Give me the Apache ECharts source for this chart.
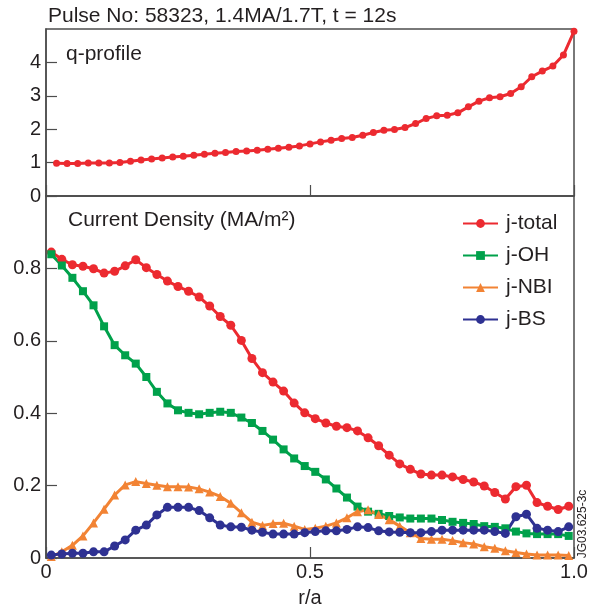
<!DOCTYPE html>
<html>
<head>
<meta charset="utf-8">
<script src="https://cdn.jsdelivr.net/npm/echarts@6/dist/echarts.min.js"></script>
<style>
  html, body { margin: 0; padding: 0; background: #fff; }
  #chart { width: 597px; height: 613px; }
</style>
</head>
<body>
<div id="chart"></div>
<script>
// r/a positions of the q-profile points
var rQ = [0.02, 0.04, 0.06, 0.08, 0.10, 0.12, 0.14, 0.16, 0.18, 0.20,
          0.22, 0.24, 0.26, 0.28, 0.30, 0.32, 0.34, 0.36, 0.38, 0.40,
          0.42, 0.44, 0.46, 0.48, 0.50, 0.52, 0.54, 0.56, 0.58, 0.60,
          0.62, 0.64, 0.66, 0.68, 0.70, 0.72, 0.74, 0.76, 0.78, 0.80,
          0.82, 0.84, 0.86, 0.88, 0.90, 0.92, 0.94, 0.96, 0.98, 1.00];
var qProfile = [0.98, 0.97, 0.97, 0.99, 0.99, 0.99, 1.00, 1.04, 1.08, 1.11,
                1.14, 1.17, 1.19, 1.22, 1.25, 1.28, 1.30, 1.33, 1.35, 1.37,
                1.40, 1.43, 1.46, 1.50, 1.56, 1.62, 1.67, 1.72, 1.75, 1.82,
                1.90, 1.97, 1.99, 2.05, 2.17, 2.32, 2.40, 2.42, 2.49, 2.67,
                2.84, 2.94, 2.97, 3.07, 3.27, 3.57, 3.74, 3.89, 4.22, 4.93];

// r/a positions of the current density points
var rJ = [0.01, 0.03, 0.05, 0.07, 0.09, 0.11, 0.13, 0.15, 0.17, 0.19,
          0.21, 0.23, 0.25, 0.27, 0.29, 0.31, 0.33, 0.35, 0.37, 0.39,
          0.41, 0.43, 0.45, 0.47, 0.49, 0.51, 0.53, 0.55, 0.57, 0.59,
          0.61, 0.63, 0.65, 0.67, 0.69, 0.71, 0.73, 0.75, 0.77, 0.79,
          0.81, 0.83, 0.85, 0.87, 0.89, 0.91, 0.93, 0.95, 0.97, 0.99];
var jTotal = [0.845, 0.825, 0.810, 0.806, 0.799, 0.787, 0.792, 0.807, 0.824, 0.802,
              0.783, 0.765, 0.750, 0.737, 0.721, 0.696, 0.667, 0.643, 0.601, 0.551,
              0.512, 0.486, 0.461, 0.428, 0.401, 0.385, 0.373, 0.364, 0.360, 0.351,
              0.332, 0.310, 0.284, 0.260, 0.245, 0.232, 0.229, 0.229, 0.224, 0.217,
              0.210, 0.199, 0.181, 0.163, 0.197, 0.201, 0.153, 0.143, 0.134, 0.143];
var jOH = [0.839, 0.808, 0.774, 0.737, 0.698, 0.640, 0.588, 0.560, 0.537, 0.500,
           0.459, 0.427, 0.408, 0.401, 0.397, 0.401, 0.404, 0.401, 0.388, 0.373,
           0.351, 0.327, 0.300, 0.275, 0.254, 0.238, 0.217, 0.192, 0.167, 0.142,
           0.128, 0.122, 0.116, 0.112, 0.109, 0.109, 0.109, 0.105, 0.100, 0.097,
           0.094, 0.088, 0.086, 0.082, 0.073, 0.068, 0.066, 0.066, 0.066, 0.061];
var jNBI = [0.004, 0.017, 0.035, 0.061, 0.097, 0.135, 0.174, 0.202, 0.211, 0.206,
            0.201, 0.197, 0.197, 0.196, 0.191, 0.182, 0.170, 0.151, 0.125, 0.099,
            0.090, 0.095, 0.096, 0.088, 0.079, 0.082, 0.088, 0.097, 0.111, 0.128,
            0.133, 0.120, 0.106, 0.088, 0.070, 0.054, 0.052, 0.052, 0.048, 0.042,
            0.039, 0.031, 0.027, 0.020, 0.015, 0.011, 0.008, 0.008, 0.008, 0.007];
var jBS = [0.008, 0.011, 0.013, 0.013, 0.017, 0.017, 0.033, 0.050, 0.077, 0.091,
           0.119, 0.140, 0.140, 0.140, 0.131, 0.111, 0.091, 0.086, 0.085, 0.077,
           0.071, 0.066, 0.066, 0.066, 0.070, 0.073, 0.075, 0.075, 0.079, 0.086,
           0.084, 0.075, 0.072, 0.071, 0.070, 0.070, 0.073, 0.077, 0.077, 0.077,
           0.077, 0.077, 0.073, 0.068, 0.114, 0.121, 0.082, 0.077, 0.073, 0.086];

var seriesNames = ['j-total', 'j-OH', 'j-NBI', 'j-BS'];

var FONT = "'Liberation Sans', Arial, Helvetica, sans-serif";
var INK = '#231f20';
var FRAME = '#4d4d4d';
var RED = '#ec2a30', GREEN = '#00a14b', ORANGE = '#f28334', BLUE = '#2e3192';

function pairs(xs, ys) {
  return xs.map(function (x, i) { return [x, ys[i]]; });
}

function lineSeries(name, xs, ys, color, symbol, size, xi, yi) {
  return {
    name: name,
    type: 'line',
    xAxisIndex: xi,
    yAxisIndex: yi,
    data: pairs(xs, ys),
    symbol: symbol,
    symbolSize: size,
    showAllSymbol: true,
    lineStyle: { color: color, width: 3 },
    itemStyle: { color: color },
    emphasis: { disabled: true }
  };
}

var chart = echarts.init(document.getElementById('chart'));

var tickStyle = { show: true, inside: true, length: 11, lineStyle: { color: FRAME, width: 1.2 } };
var lineAxis = { show: true, lineStyle: { color: FRAME, width: 1.5 } };
var labelStyle = { color: INK, fontSize: 20, fontFamily: FONT };

var option = {
  animation: false,
  backgroundColor: '#fff',
  grid: [
    { left: 46, right: 23, top: 29, height: 167, show: true, borderColor: FRAME, borderWidth: 1.5, backgroundColor: 'transparent' },
    { left: 46, right: 23, top: 196, height: 362, show: true, borderColor: FRAME, borderWidth: 1.5, backgroundColor: 'transparent' }
  ],
  xAxis: [
    {
      gridIndex: 0, type: 'value', min: 0, max: 1, interval: 0.5,
      axisLine: lineAxis, axisTick: tickStyle, axisLabel: { show: false },
      splitLine: { show: false }
    },
    {
      gridIndex: 1, type: 'value', min: 0, max: 1, interval: 0.5,
      axisLine: lineAxis, axisTick: tickStyle,
      axisLabel: Object.assign({ margin: 4, formatter: function (v) { return v === 0 ? '0' : v.toFixed(1); } }, labelStyle),
      splitLine: { show: false },
      name: 'r/a', nameLocation: 'middle', nameGap: 30,
      nameTextStyle: labelStyle
    }
  ],
  yAxis: [
    {
      gridIndex: 0, type: 'value', min: 0, max: 5, interval: 1,
      axisLine: lineAxis, axisTick: tickStyle,
      axisLabel: Object.assign({ margin: 5, showMaxLabel: false }, labelStyle),
      splitLine: { show: false }
    },
    {
      gridIndex: 1, type: 'value', min: 0, max: 1, interval: 0.2,
      axisLine: lineAxis, axisTick: tickStyle,
      axisLabel: Object.assign({ margin: 5, showMaxLabel: false,
        formatter: function (v) { return v === 0 ? '0' : v.toFixed(1); } }, labelStyle),
      splitLine: { show: false }
    }
  ],
  legend: {
    data: seriesNames,
    orient: 'vertical',
    left: 462,
    top: 213,
    padding: 0,
    itemWidth: 35,
    itemHeight: 11,
    itemGap: 11,
    selectedMode: false,
    textStyle: { color: INK, fontSize: 21, fontFamily: FONT, padding: [0, 0, 0, 3] }
  },
  graphic: [
    { type: 'text', x: 48, y: 16, style: { text: 'Pulse No: 58323, 1.4MA/1.7T, t = 12s', font: '21px ' + FONT, fill: INK, verticalAlign: 'middle' } },
    { type: 'text', x: 66, y: 54, style: { text: 'q-profile', font: '21px ' + FONT, fill: INK, verticalAlign: 'middle' } },
    { type: 'text', x: 68, y: 220, style: { text: 'Current Density (MA/m²)', font: '21px ' + FONT, fill: INK, verticalAlign: 'middle' } },
    { type: 'text', x: 583, y: 524, rotation: Math.PI / 2, style: { text: 'JG03.625-3c', font: '12px ' + FONT, fill: INK, align: 'center', verticalAlign: 'middle' } }
  ],
  series: [
    lineSeries('q', rQ, qProfile, RED, 'circle', 7, 0, 0),
    lineSeries('j-total', rJ, jTotal, RED, 'circle', 9, 1, 1),
    lineSeries('j-OH', rJ, jOH, GREEN, 'rect', 8, 1, 1),
    lineSeries('j-NBI', rJ, jNBI, ORANGE, 'triangle', 9, 1, 1),
    lineSeries('j-BS', rJ, jBS, BLUE, 'circle', 9, 1, 1)
  ]
};

chart.setOption(option);
</script>
</body>
</html>
